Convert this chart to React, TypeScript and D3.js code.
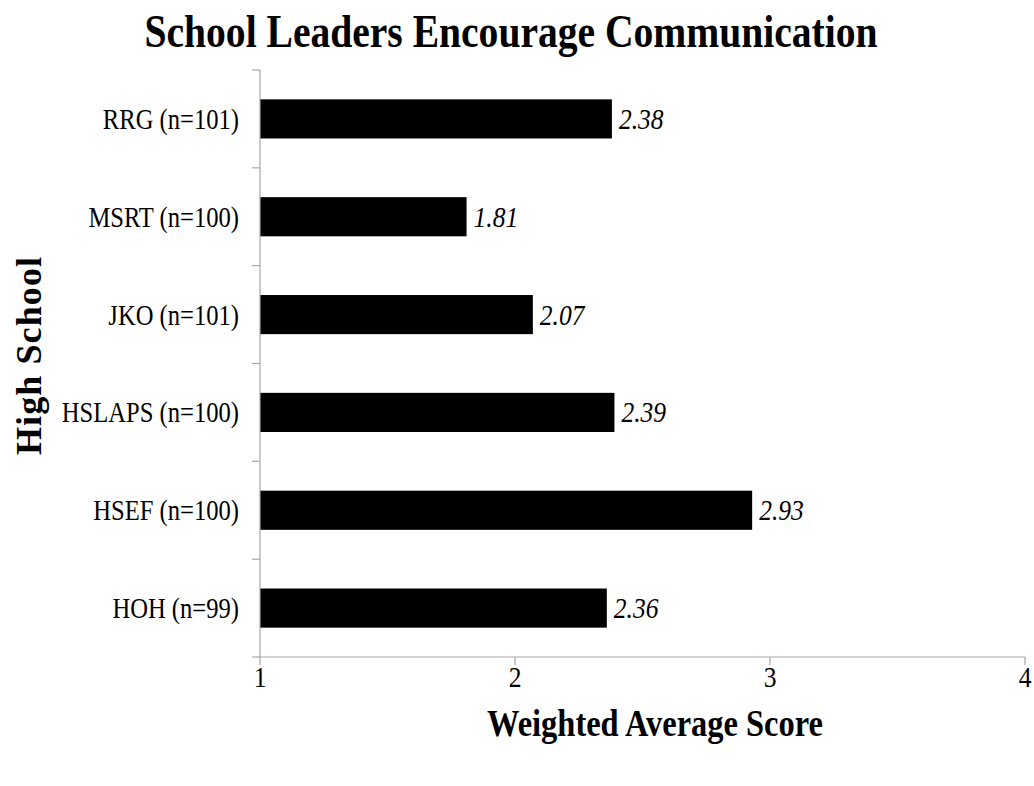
import React from "react";
import * as d3 from "d3";

const categories = [
  "RRG (n=101)",
  "MSRT (n=100)",
  "JKO (n=101)",
  "HSLAPS (n=100)",
  "HSEF (n=100)",
  "HOH (n=99)",
];
const values = [2.38, 1.81, 2.07, 2.39, 2.93, 2.36];
const xTicks = [1, 2, 3, 4];
const titleText = "School Leaders Encourage Communication";
const xTitle = "Weighted Average Score";
const yTitle = "High School";

const W = 1034;
const H = 786;
const serif = "'Liberation Serif', 'Times New Roman', serif";
const axisColor = "#a6a6a6";

export default function App() {
  const x = d3.scaleLinear().domain([1, 4]).range([260, 1025]);
  const y = d3
    .scaleBand<string>()
    .domain(categories)
    .range([70, 657])
    .paddingInner(0.6)
    .paddingOuter(0.3);
  const step = y.step();
  const boundaries = d3.range(categories.length + 1).map((i) => 70 + i * step);
  const plotBottom = 657;

  return (
    <svg
      width={W}
      height={H}
      style={{ position: "absolute", left: 0, top: 0, background: "#fff" }}
      fontFamily={serif}
    >
      <rect width={W} height={H} fill="#fff" />
      {/* Title */}
      <text
        x={511}
        y={47}
        textAnchor="middle"
        fontSize={46}
        fontWeight="bold"
        textLength={733}
        lengthAdjust="spacingAndGlyphs"
      >
        {titleText}
      </text>

      {/* Bars */}
      {categories.map((c, i) => (
        <rect
          key={c}
          x={x(1)}
          y={y(c)!}
          width={x(values[i]) - x(1)}
          height={y.bandwidth()}
          fill="#000"
        />
      ))}

      {/* Value labels */}
      {categories.map((c, i) => (
        <g
          key={c + "v"}
          transform={`translate(${x(values[i]) + 7},${y(c)! + y.bandwidth() / 2 + 10}) scale(0.85,1)`}
        >
          <text fontSize={30} fontStyle="italic" fill="#000">
            {values[i].toFixed(2)}
          </text>
        </g>
      ))}

      {/* Y axis */}
      <line x1={260} x2={260} y1={70} y2={plotBottom} stroke={axisColor} strokeWidth={1.2} />
      {boundaries.map((b, i) => (
        <line key={"yt" + i} x1={252} x2={260} y1={b} y2={b} stroke={axisColor} strokeWidth={1.2} />
      ))}
      {categories.map((c) => (
        <g
          key={c + "l"}
          transform={`translate(239,${y(c)! + y.bandwidth() / 2 + 10}) scale(0.82,1)`}
        >
          <text textAnchor="end" fontSize={30} fill="#000">
            {c}
          </text>
        </g>
      ))}

      {/* X axis */}
      <line x1={260} x2={x(4)} y1={plotBottom} y2={plotBottom} stroke={axisColor} strokeWidth={1.2} />
      {xTicks.map((t) => (
        <line key={"xt" + t} x1={x(t)} x2={x(t)} y1={plotBottom} y2={plotBottom + 8} stroke={axisColor} strokeWidth={1.2} />
      ))}
      {xTicks.map((t) => (
        <g key={"xl" + t} transform={`translate(${x(t)},${plotBottom + 30}) scale(0.85,1)`}>
          <text textAnchor="middle" fontSize={30} fill="#000">
            {t}
          </text>
        </g>
      ))}

      {/* Axis titles */}
      <text
        x={655}
        y={736}
        textAnchor="middle"
        fontSize={38}
        fontWeight="bold"
        textLength={336}
        lengthAdjust="spacingAndGlyphs"
      >
        {xTitle}
      </text>
      <text
        transform={`translate(41,355) rotate(-90)`}
        textAnchor="middle"
        fontSize={36}
        fontWeight="bold"
        letterSpacing={2}
        textLength={200}
        lengthAdjust="spacing"
      >
        {yTitle}
      </text>
    </svg>
  );
}
